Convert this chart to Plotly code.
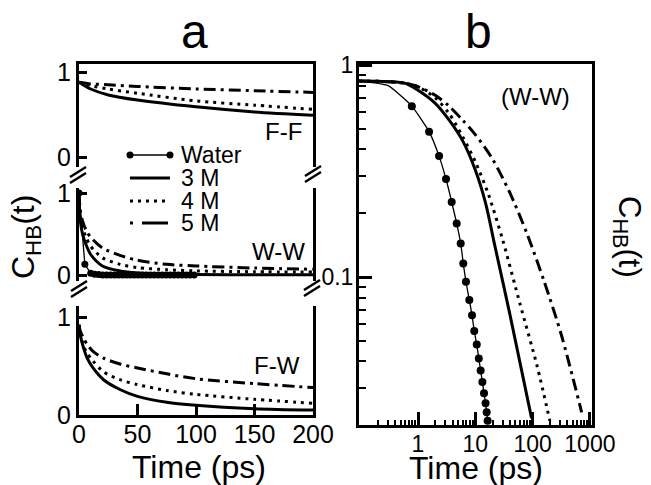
import plotly.graph_objects as go

# ---------------- data ----------------
# Panel a: F-F
t_ff = [0, 10, 25, 50, 100, 150, 200]
ff_3m = [0.88, 0.80, 0.73, 0.67, 0.59, 0.53, 0.49]
ff_4m = [0.88, 0.84, 0.80, 0.75, 0.66, 0.61, 0.56]
ff_5m = [0.88, 0.86, 0.85, 0.83, 0.80, 0.78, 0.76]

# Panel a: W-W
t_ww = [0, 1, 3, 6, 10, 20, 35, 50, 75, 100, 150, 200]
ww_3m = [1.0, 0.68, 0.50, 0.37, 0.25, 0.11, 0.05, 0.025, 0.012, 0.006, 0.003, 0.002]
ww_4m = [1.0, 0.74, 0.58, 0.46, 0.35, 0.21, 0.13, 0.09, 0.065, 0.05, 0.04, 0.035]
ww_5m = [1.0, 0.80, 0.66, 0.55, 0.46, 0.33, 0.24, 0.18, 0.13, 0.11, 0.085, 0.07]
t_ww_water = [0, 5, 10, 13.4, 16.8, 20.2, 23.6, 27, 30.4, 33.8, 37.2, 40.6, 44, 47.4,
              50.8, 54.2, 57.6, 61, 64.4, 67.8, 71.2, 74.6, 78, 81.4, 84.8, 88.2,
              91.6, 95, 98.4]
ww_water = [1.0, 0.13, 0.02, 0.01, 0.005, 0, 0, 0, 0, 0, 0, 0, 0, 0,
            0, 0, 0, 0, 0, 0, 0, 0, 0, 0, 0, 0,
            0, 0, 0]

# Panel a: F-W
t_fw = [0, 1, 4, 7, 12, 21, 35, 50, 75, 100, 150, 200]
fw_3m = [0.92, 0.82, 0.68, 0.58, 0.48, 0.36, 0.26, 0.19, 0.13, 0.10, 0.065, 0.05]
fw_4m = [0.92, 0.84, 0.70, 0.63, 0.55, 0.44, 0.36, 0.31, 0.25, 0.21, 0.16, 0.12]
fw_5m = [0.92, 0.86, 0.78, 0.72, 0.65, 0.58, 0.52, 0.48, 0.42, 0.37, 0.32, 0.28]

# Panel b: W-W log-log
tb_water_line = [0.093, 0.3, 0.52, 0.78, 1.56, 2.33, 3.08, 3.87, 4.73, 5.56, 6.17, 6.87,
                 7.86, 8.76, 9.6, 10.6, 11.5, 12.4, 13.3, 14.2, 15.1, 15.8, 16.4]
cb_water_line = [0.84, 0.80, 0.71, 0.64, 0.485, 0.372, 0.29, 0.226, 0.179, 0.144, 0.116, 0.095,
                 0.078, 0.066, 0.0556, 0.048, 0.0413, 0.0362, 0.032, 0.0283, 0.0254, 0.023, 0.021]
tb_water_pts = [0.78, 1.56, 2.33, 3.08, 3.87, 4.73, 5.56, 6.17, 6.87, 7.86, 8.76, 9.6,
                10.6, 11.5, 12.4, 13.3, 14.2, 15.1, 15.8, 16.4]
cb_water_pts = [0.64, 0.485, 0.372, 0.29, 0.226, 0.179, 0.144, 0.116, 0.095, 0.078, 0.066, 0.0556,
                0.048, 0.0413, 0.0362, 0.032, 0.0283, 0.0254, 0.023, 0.021]
tb_3m = [0.093, 0.3, 0.6, 1, 2, 3.5, 6, 10, 15, 22, 40, 96]
cb_3m = [0.84, 0.835, 0.82, 0.76, 0.66, 0.55, 0.44, 0.32, 0.225, 0.14, 0.067, 0.0216]
tb_4m = [0.093, 0.3, 0.6, 1, 2, 3.5, 6, 10, 17, 30, 60, 120, 200]
cb_4m = [0.84, 0.835, 0.82, 0.79, 0.70, 0.59, 0.46, 0.35, 0.245, 0.15, 0.075, 0.038, 0.021]
tb_5m = [0.093, 0.3, 0.6, 1, 2, 3.5, 6, 10, 20, 40, 80, 160, 320, 719]
cb_5m = [0.84, 0.835, 0.82, 0.79, 0.72, 0.64, 0.55, 0.47, 0.36, 0.25, 0.16, 0.095, 0.053, 0.023]

a_xticks = [0, 50, 100, 150, 200]
a_yticks = [0, 1]
b_xticks = [1, 10, 100, 1000]
b_xticktext = ["1", "10", "100", "1000"]
b_xminor = [0.2, 0.3, 0.4, 0.5, 0.6, 0.7, 0.8, 0.9, 2, 3, 4, 5, 6, 7, 8, 9,
            20, 30, 40, 50, 60, 70, 80, 90, 200, 300, 400, 500, 600, 700, 800, 900]
b_yticks = [0.1, 1]
b_yticktext = ["0.1", "1"]
b_yminor = [0.03, 0.04, 0.05, 0.06, 0.07, 0.08, 0.09, 0.2, 0.3, 0.4, 0.5, 0.6, 0.7, 0.8, 0.9]

series_names = ["Water", "3 M", "4 M", "5 M"]

# ---------------- style ----------------
W, H = 651, 485
FONT = "Arial, Liberation Sans, Helvetica, sans-serif"
DOT = "3px,5px"
DASHDOT = "12px,5px,3px,5px"
LW = 3


def px(x):
    return x / W


def py(y):
    return 1 - y / H


fig = go.Figure()


def add_curve(x, y, xa, ya, dash, width=LW):
    fig.add_trace(go.Scatter(
        x=x, y=y, xaxis=xa, yaxis=ya, mode="lines",
        line=dict(color="black", width=width, dash=dash, shape="spline", smoothing=0.8),
        showlegend=False, hoverinfo="skip"))


# F-F (x3/y3)
add_curve(t_ff, ff_3m, "x3", "y3", "solid")
add_curve(t_ff, ff_4m, "x3", "y3", DOT)
add_curve(t_ff, ff_5m, "x3", "y3", DASHDOT)
# W-W (x2/y2)
add_curve(t_ww, ww_3m, "x2", "y2", "solid")
add_curve(t_ww, ww_4m, "x2", "y2", DOT)
add_curve(t_ww, ww_5m, "x2", "y2", DASHDOT)
fig.add_trace(go.Scatter(x=t_ww_water, y=ww_water, xaxis="x2", yaxis="y2", mode="lines+markers",
                         line=dict(color="black", width=1.3),
                         marker=dict(color="black", size=7),
                         showlegend=False, hoverinfo="skip"))
# F-W (x/y)
add_curve(t_fw, fw_3m, "x", "y", "solid")
add_curve(t_fw, fw_4m, "x", "y", DOT)
add_curve(t_fw, fw_5m, "x", "y", DASHDOT)

# Panel b (x4/y4)
fig.add_trace(go.Scatter(x=tb_water_line, y=cb_water_line, xaxis="x4", yaxis="y4", mode="lines",
                         line=dict(color="black", width=1.3, shape="spline", smoothing=0.6),
                         showlegend=False, hoverinfo="skip"))
fig.add_trace(go.Scatter(x=tb_water_pts, y=cb_water_pts, xaxis="x4", yaxis="y4", mode="markers",
                         marker=dict(color="black", size=8),
                         showlegend=False, hoverinfo="skip"))
add_curve(tb_3m, cb_3m, "x4", "y4", "solid")
add_curve(tb_4m, cb_4m, "x4", "y4", DOT)
add_curve(tb_5m, cb_5m, "x4", "y4", DASHDOT)

# ---------------- axes ----------------
xa_dom = [px(79), px(313)]
xb_dom = [px(359), px(592)]
dom_ff = [py(167), py(64)]
dom_ww = [py(281), py(188)]
dom_fw = [py(415), py(306)]
dom_b = [py(425), py(64)]

tickfont_a = dict(family=FONT, size=25, color="black")
tickfont_b = dict(family=FONT, size=23, color="black")
common = dict(showgrid=False, zeroline=False, linecolor="black", linewidth=LW,
              tickcolor="black", automargin=False)

fig.update_layout(
    width=W, height=H,
    margin=dict(l=0, r=0, t=0, b=0, pad=0, autoexpand=False),
    paper_bgcolor="white", plot_bgcolor="white",
    font=dict(family=FONT, color="black"),
    showlegend=False,
    xaxis=dict(domain=xa_dom, anchor="y", range=[0, 200], showline=True, mirror=False,
               ticks="inside", ticklen=11, tickwidth=LW, tickvals=a_xticks,
               ticktext=[str(v) for v in a_xticks], ticklabelstandoff=-5,
               tickfont=tickfont_a, **common),
    yaxis=dict(domain=dom_fw, anchor="x", range=[0, (415 - 306) / 98], showline=True, mirror=True,
               ticks="inside", ticklen=8, tickwidth=LW, tickvals=a_yticks,
               ticktext=[str(v) for v in a_yticks], tickfont=tickfont_a, **common),
    xaxis2=dict(domain=xa_dom, anchor="y2", range=[0, 200], showline=False, ticks="",
                showticklabels=False, **common),
    yaxis2=dict(domain=dom_ww, anchor="x2", range=[-(281 - 275) / 82, (275 - 188) / 82],
                showline=True, mirror=True,
                ticks="inside", ticklen=8, tickwidth=LW, tickvals=a_yticks,
                ticktext=[str(v) for v in a_yticks], tickfont=tickfont_a, **common),
    xaxis3=dict(domain=xa_dom, anchor="y3", range=[0, 200], side="top", showline=True,
                ticks="", showticklabels=False, **common),
    yaxis3=dict(domain=dom_ff, anchor="x3", range=[-(167 - 157) / 85, (157 - 64) / 85],
                showline=True, mirror=True,
                ticks="inside", ticklen=8, tickwidth=LW, tickvals=a_yticks,
                ticktext=[str(v) for v in a_yticks], tickfont=tickfont_a, **common),
    xaxis4=dict(domain=xb_dom, anchor="y4", type="log", range=[-1.03, 3.037], showline=True,
                mirror=True, ticks="inside", ticklen=13, tickwidth=LW, tickvals=b_xticks,
                ticktext=b_xticktext, ticklabelstandoff=-4, tickfont=tickfont_b,
                minor=dict(tickvals=b_xminor, ticks="inside", ticklen=5, tickwidth=2,
                           tickcolor="black", showgrid=False),
                **common),
    yaxis4=dict(domain=dom_b, anchor="x4", type="log", range=[-1.698, 0.005], showline=True,
                mirror=True, ticks="inside", ticklen=13, tickwidth=LW, tickvals=b_yticks,
                ticktext=b_yticktext, ticklabelstandoff=-2, tickfont=tickfont_b,
                minor=dict(tickvals=b_yminor, ticks="inside", ticklen=7, tickwidth=2,
                           tickcolor="black", showgrid=False),
                **common),
)

# ---------------- text ----------------
def ann(text, x, y, size, xanchor="center", yanchor="middle", angle=0):
    fig.add_annotation(text=text, x=px(x), y=py(y), xref="paper", yref="paper",
                       showarrow=False, xanchor=xanchor, yanchor=yanchor, textangle=angle,
                       font=dict(family=FONT, size=size, color="black"))


ann("a", 194, 32, 48)
ann("b", 478, 32, 48)
ann("F-F", 283, 132, 24)
ann("W-W", 278, 251, 24)
ann("F-W", 277, 365, 24)
ann("(W-W)", 535, 97, 24)
ann("Time (ps)", 199, 467, 32)
ann("Time (ps)", 476, 468, 32)
ann("C<sub>HB</sub>(t)", 25, 237, 32, angle=-90)
ann("C<sub>HB</sub>(t)", 627, 237, 31, angle=90)

# legend (manual)
leg_y = [155, 178, 201, 223]
for name, yy in zip(series_names, leg_y):
    ann(name, 179, yy, 23, xanchor="left")
fig.add_shape(type="line", xref="paper", yref="paper", x0=px(130), x1=px(170),
              y0=py(leg_y[0]), y1=py(leg_y[0]), line=dict(color="black", width=1.3))
for cx in (130, 170):
    fig.add_shape(type="circle", xref="paper", yref="paper", x0=px(cx - 3.5), x1=px(cx + 3.5),
                  y0=py(leg_y[0] + 3.5), y1=py(leg_y[0] - 3.5),
                  fillcolor="black", line=dict(color="black", width=0))
for yy, dash in zip(leg_y[1:], ["solid", DOT, "3px,9px,26px,9px"]):
    fig.add_shape(type="line", xref="paper", yref="paper", x0=px(130), x1=px(170),
                  y0=py(yy), y1=py(yy), line=dict(color="black", width=LW, dash=dash))

# axis break marks
for cx, cy in [(78, 175), (313, 174), (79, 289), (312, 288)]:
    for d in (-3, 3):
        fig.add_shape(type="line", xref="paper", yref="paper",
                      x0=px(cx - 8), y0=py(cy + d + 5), x1=px(cx + 8), y1=py(cy + d - 5),
                      line=dict(color="black", width=2.5))

fig.write_html("out.html", config={"displayModeBar": False},
               post_script="document.body.style.margin='0px';document.body.style.overflow='hidden';")
